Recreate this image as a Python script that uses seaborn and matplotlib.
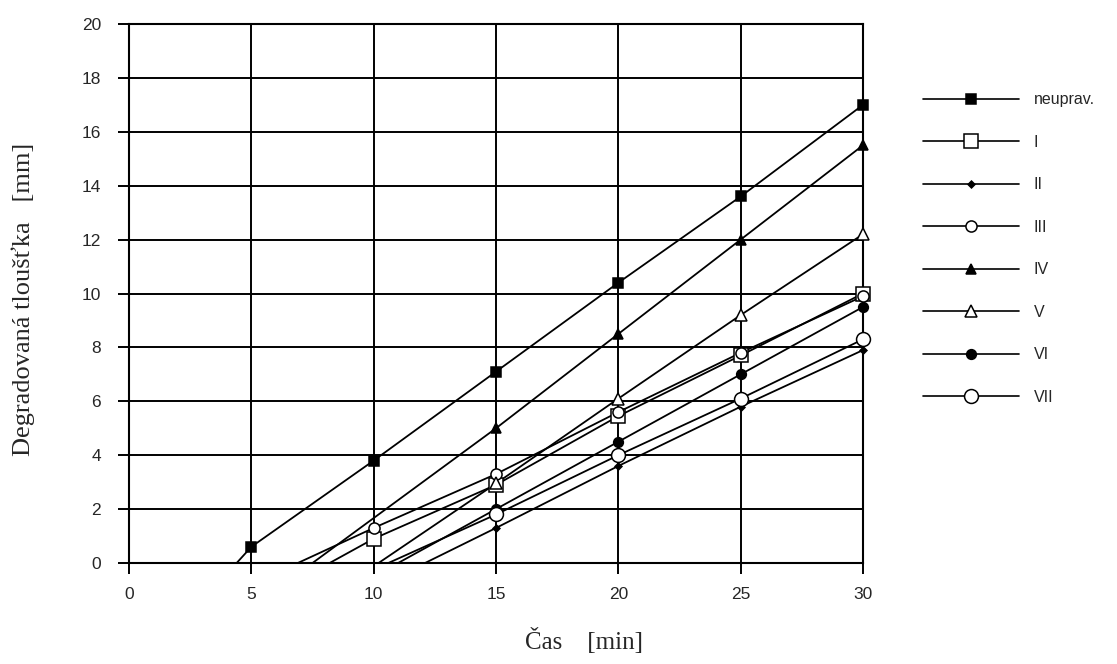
import numpy as np
import pandas as pd
import matplotlib
matplotlib.use("Agg")
import matplotlib.pyplot as plt
import seaborn as sns

# Measured degraded thickness [mm] over time [min]
time_min = [5, 10, 15, 20, 25, 30]
series_names = ["neuprav.", "I", "II", "III", "IV", "V", "VI", "VII"]
neuprav = [0.6, 3.8, 7.1, 10.4, 13.6, 17.0]
ser_I = [np.nan, 0.9, 2.9, 5.45, 7.7, 10.0]
ser_II = [np.nan, np.nan, 1.3, 3.6, 5.8, 7.9]
ser_III = [np.nan, 1.3, 3.3, 5.6, 7.8, 9.9]
ser_IV = [np.nan, np.nan, 5.0, 8.5, 12.0, 15.5]
ser_V = [np.nan, np.nan, 2.95, 6.1, 9.2, 12.2]
ser_VI = [np.nan, np.nan, 2.0, 4.5, 7.0, 9.5]
ser_VII = [np.nan, np.nan, 1.8, 4.0, 6.1, 8.3]
# time at which each fitted line starts from zero thickness
onset_min = [4.4, 8.2, 12.1, 6.9, 7.5, 10.2, 11.0, 10.6]

values = [neuprav, ser_I, ser_II, ser_III, ser_IV, ser_V, ser_VI, ser_VII]

# marker, size, face colour for each series
styles = {
    "neuprav.": ("s", 7, "black"),
    "I": ("s", 10, "white"),
    "II": ("D", 3.5, "black"),
    "III": ("o", 8, "white"),
    "IV": ("^", 7, "black"),
    "V": ("^", 9, "white"),
    "VI": ("o", 7, "black"),
    "VII": ("o", 10, "white"),
}

rows = []
for name, vals, t0 in zip(series_names, values, onset_min):
    rows.append({"serie": name, "cas": t0, "tl": 0.0, "meas": False})
    for t, v in zip(time_min, vals):
        if not np.isnan(v):
            rows.append({"serie": name, "cas": t, "tl": v, "meas": True})
df = pd.DataFrame(rows)

sns.set_style("white")
plt.rcParams["font.family"] = ["Liberation Sans", "DejaVu Sans"]
serif = ["Liberation Serif", "DejaVu Serif"]

fig = plt.figure(figsize=(11.17, 6.64), dpi=100)
ax = fig.add_axes([129 / 1117, 1 - 563 / 664, (863 - 129) / 1117, (563 - 24) / 664])

for name in series_names:
    sub = df[df["serie"] == name].sort_values("cas")
    sns.lineplot(data=sub, x="cas", y="tl", ax=ax, color="black", lw=1.3,
                 estimator=None, sort=False, legend=False, zorder=3)
    m, ms, fc = styles[name]
    pts = sub[sub["meas"]]
    ax.plot(pts["cas"], pts["tl"], ls="none", marker=m, ms=ms, mfc=fc,
            mec="black", mew=1.1, zorder=4, clip_on=False)

ax.set_xlim(0, 30)
ax.set_ylim(0, 20)
ax.set_xticks(range(0, 31, 5))
ax.set_yticks(range(0, 21, 2))
ax.grid(True, color="black", lw=1.4)
ax.set_axisbelow(True)
for sp in ax.spines.values():
    sp.set_color("black")
    sp.set_linewidth(1.5)
ax.tick_params(axis="both", direction="out", length=8, width=1.4, color="black",
               labelsize=12.5, bottom=True, left=True)
ax.tick_params(axis="x", pad=9)
ax.tick_params(axis="y", pad=12)

ax.set_xlabel("Čas    [min]", family=serif, fontsize=18)
ax.xaxis.set_label_coords(0.62, -0.12)
ax.set_ylabel("Degradovaná tloušťka   [mm]", family=serif, fontsize=19)
ax.yaxis.set_label_coords(-0.128, 0.49)

# legend handles
handles = []
for name in series_names:
    m, ms, fc = styles[name]
    h, = ax.plot([], [], color="black", lw=1.2, marker=m, ms=ms, mfc=fc, mec="black", mew=1.1)
    handles.append(h)
fig.legend(handles, series_names, loc="upper left", bbox_to_anchor=(917 / 1117, 1 - 86 / 664),
           frameon=False, handlelength=6.0, handletextpad=0.9, labelspacing=1.72,
           fontsize=11.5, borderaxespad=0)

fig.savefig("out.png", dpi=100)
